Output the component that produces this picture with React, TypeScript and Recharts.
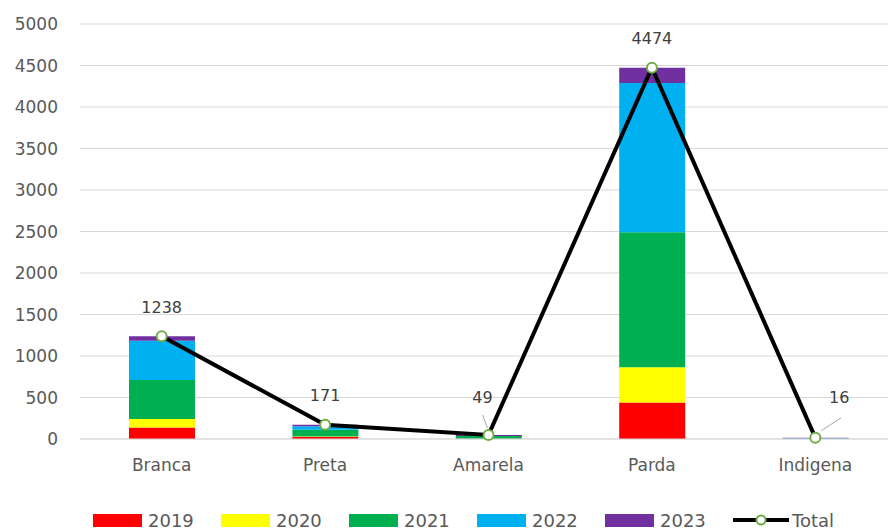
import { ComposedChart, Bar, Line, XAxis, YAxis, CartesianGrid, Legend, LabelList } from 'recharts';

const categories = ['Branca', 'Preta', 'Amarela', 'Parda', 'Indigena'];
const v2019 = [140, 25, 2, 440, 0];
const v2020 = [100, 5, 1, 425, 0];
const v2021 = [470, 80, 32, 1625, 2];
const v2022 = [475, 45, 2, 1800, 8];
const v2023 = [53, 16, 12, 184, 6];
const totals = [1238, 171, 49, 4474, 16];
const yTicks = [0, 500, 1000, 1500, 2000, 2500, 3000, 3500, 4000, 4500, 5000];

const series = [
    { key: 'y2019', name: '2019', color: '#FF0000' },
    { key: 'y2020', name: '2020', color: '#FFFF00' },
    { key: 'y2021', name: '2021', color: '#00B050' },
    { key: 'y2022', name: '2022', color: '#00B0F0' },
    { key: 'y2023', name: '2023', color: '#7030A0' },
];

const data = categories.map((name, i) => ({
    name,
    y2019: v2019[i],
    y2020: v2020[i],
    y2021: v2021[i],
    y2022: v2022[i],
    y2023: v2023[i],
    total: totals[i],
}));

const FONT = '"DejaVu Sans", sans-serif';

// small values sit on the axis, so their labels are pushed aside with a leader line
const labelShift: Record<number, { dx: number; dy: number; leader?: [number, number, number, number] }> = {
    2: { dx: -6, dy: -37, leader: [-6, -20, -1, -7] },
    4: { dx: 24, dy: -40, leader: [26, -20, 6, -7] },
};

const TotalLabel = (props: any) => {
    const { x, y, value, index } = props;
    const s = labelShift[index] || { dx: 0, dy: -29 };
    return (
        <g>
            {s.leader && (
                <line
                    x1={x + s.leader[0]}
                    y1={y + s.leader[1]}
                    x2={x + s.leader[2]}
                    y2={y + s.leader[3]}
                    stroke="#a6a6a6"
                    strokeWidth={1}
                />
            )}
            <text
                x={x + s.dx}
                y={y + s.dy}
                textAnchor="middle"
                dominantBaseline="central"
                fill="#404040"
                fontSize={16}
                fontFamily={FONT}
            >
                {value}
            </text>
        </g>
    );
};

const LegendContent = () => (
    <div style={{ display: 'flex', height: 30, alignItems: 'center', paddingLeft: 93, fontFamily: FONT, fontSize: 18, color: '#595959' }}>
        {series.map((s) => (
            <div key={s.key} style={{ display: 'flex', alignItems: 'center', width: 128 }}>
                <span style={{ display: 'inline-block', width: 49, height: 13, background: s.color, marginRight: 6 }} />
                <span>{s.name}</span>
            </div>
        ))}
        <div style={{ display: 'flex', alignItems: 'center' }}>
            <svg width={56} height={14} style={{ marginRight: 3 }}>
                <line x1={0} y1={7} x2={56} y2={7} stroke="#000" strokeWidth={4} />
                <circle cx={28} cy={7} r={4.5} fill="#fff" stroke="#70AD47" strokeWidth={2} />
            </svg>
            <span>Total</span>
        </div>
    </div>
);

export default function App() {
    return (
        <div style={{ position: 'absolute', left: 0, top: 0, width: 888, height: 531, overflow: 'hidden', background: '#fff' }}>
            <ComposedChart width={900} height={531} data={data} margin={{ top: 24, right: 3, left: 0, bottom: 22 }}>
                <CartesianGrid stroke="#d9d9d9" vertical={false} />
                <XAxis
                    dataKey="name"
                    height={40}
                    axisLine={{ stroke: '#d9d9d9' }}
                    tickLine={false}
                    tickMargin={14}
                    tick={{ fill: '#595959', fontSize: 17, fontFamily: FONT }}
                />
                <YAxis
                    width={80}
                    domain={[0, 5000]}
                    ticks={yTicks}
                    axisLine={false}
                    tickLine={false}
                    tickMargin={16}
                    tick={{ fill: '#595959', fontSize: 17, fontFamily: FONT }}
                />
                <Legend
                    verticalAlign="bottom"
                    content={<LegendContent />}
                    wrapperStyle={{ left: 0, width: 900, bottom: -4 }}
                />
                {series.map((s) => (
                    <Bar key={s.key} dataKey={s.key} name={s.name} stackId="a" fill={s.color} barSize={66} isAnimationActive={false} />
                ))}
                <Line
                    dataKey="total"
                    name="Total"
                    stroke="#000"
                    strokeWidth={4}
                    dot={{ r: 5, stroke: '#70AD47', strokeWidth: 2, fill: '#fff' }}
                    activeDot={false}
                    isAnimationActive={false}
                >
                    <LabelList dataKey="total" content={<TotalLabel />} />
                </Line>
            </ComposedChart>
        </div>
    );
}
